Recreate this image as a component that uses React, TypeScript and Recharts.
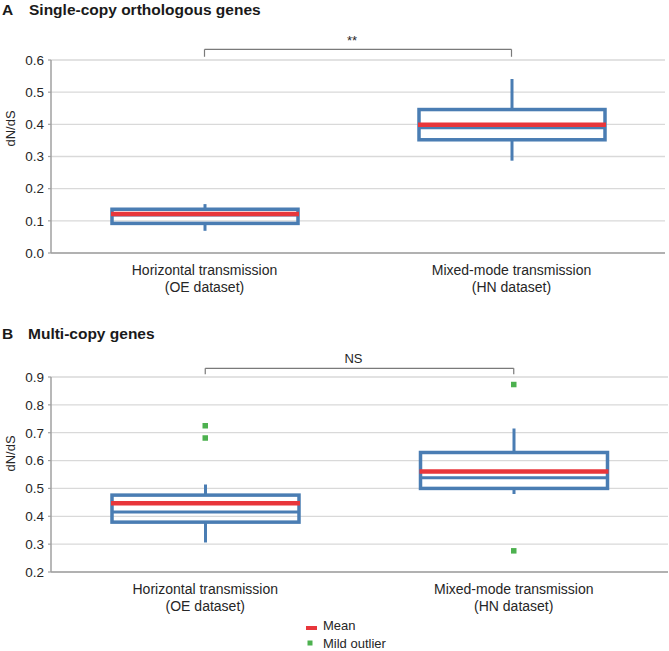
import React from 'react';
import {
  ComposedChart,
  Bar,
  Scatter,
  XAxis,
  YAxis,
  CartesianGrid,
  ReferenceLine,
} from 'recharts';

// ---------- data ----------
const categories = ['Horizontal transmission\n(OE dataset)', 'Mixed-mode transmission\n(HN dataset)'];

// Panel A: single-copy orthologous genes
const singleMin = [0.069, 0.287];
const singleQ1 = [0.092, 0.352];
const singleMedian = [0.118, 0.389];
const singleQ3 = [0.136, 0.446];
const singleMax = [0.152, 0.541];
const singleMean = [0.121, 0.399];
const singleTicks = [0, 0.1, 0.2, 0.3, 0.4, 0.5, 0.6];

// Panel B: multi-copy genes
const multiMin = [0.306, 0.48];
const multiQ1 = [0.379, 0.5];
const multiMedian = [0.415, 0.538];
const multiQ3 = [0.476, 0.629];
const multiMax = [0.514, 0.715];
const multiMean = [0.447, 0.561];
const multiOutlierHigh = [0.725, 0.873];
const multiOutlierLow = [0.681, 0.276];
const multiTicks = [0.2, 0.3, 0.4, 0.5, 0.6, 0.7, 0.8, 0.9];

const significance = ['**', 'NS'];
const panelTitles = ['Single-copy orthologous genes', 'Multi-copy genes'];
const legendLabels = ['Mean', 'Mild outlier'];

// ---------- styles ----------
const BLUE = '#4a7db3';
const RED = '#e8363b';
const GREEN = '#4db14f';
const AXIS = '#a0a0a0';
const GRID = '#d9d9d9';
const TEXT = '#262626';
const FONT = '"Liberation Sans", Arial, Helvetica, sans-serif';

const buildRows = (
  mins: number[], q1s: number[], meds: number[], q3s: number[], maxs: number[], means: number[],
  hi?: number[], lo?: number[]
) =>
  categories.map((name, i) => ({
    name,
    min: mins[i],
    q1: q1s[i],
    median: meds[i],
    q3: q3s[i],
    max: maxs[i],
    mean: means[i],
    range: [mins[i], maxs[i]],
    outHigh: hi ? hi[i] : null,
    outLow: lo ? lo[i] : null,
  }));

const singleRows = buildRows(singleMin, singleQ1, singleMedian, singleQ3, singleMax, singleMean);
const multiRows = buildRows(multiMin, multiQ1, multiMedian, multiQ3, multiMax, multiMean, multiOutlierHigh, multiOutlierLow);

function BoxShape(props: any) {
  const { x, y, width, height, payload } = props;
  if (!payload || height == null) return null;
  const { min, q1, median, q3, max, mean } = payload;
  const span = max - min;
  const py = (v: number) => y + ((max - v) / span) * height;
  const cx = x + width / 2;
  return (
    <g>
      <line x1={cx} x2={cx} y1={py(max)} y2={py(q3)} stroke={BLUE} strokeWidth={3} />
      <line x1={cx} x2={cx} y1={py(q1)} y2={py(min)} stroke={BLUE} strokeWidth={3} />
      <rect x={x} y={py(q3)} width={width} height={py(q1) - py(q3)} fill="none" stroke={BLUE} strokeWidth={3.5} />
      <line x1={x} x2={x + width} y1={py(median)} y2={py(median)} stroke={BLUE} strokeWidth={3} />
      <line x1={x - 1} x2={x + width + 1} y1={py(mean)} y2={py(mean)} stroke={RED} strokeWidth={4.5} />
    </g>
  );
}

function OutlierShape(props: any) {
  const { cx, cy } = props;
  if (cx == null || cy == null) return null;
  return <rect x={cx - 2.75} y={cy - 2.75} width={5.5} height={5.5} fill={GREEN} />;
}

function CategoryTick(props: any) {
  const { x, y, payload } = props;
  const lines = String(payload.value).split('\n');
  return (
    <text x={x} y={y} textAnchor="middle" fontFamily={FONT} fontSize={14} fill={TEXT}>
      {lines.map((l, i) => (
        <tspan key={i} x={x} y={y + 21.5 + i * 17}>
          {l}
        </tspan>
      ))}
    </text>
  );
}

const yLabel = (shift: number) => ({
  content: (p: any) => {
    const vb = p.viewBox || {};
    const cx = (vb.x || 0) + 10;
    const cy = (vb.y || 0) + (vb.height || 0) / 2 + shift;
    return (
      <text
        x={cx}
        y={cy}
        textAnchor="middle"
        dominantBaseline="central"
        transform={`rotate(-90, ${cx}, ${cy})`}
        fontFamily={FONT}
        fontSize={13}
        fill={TEXT}
      >
        dN/dS
      </text>
    );
  },
});

function Panel(props: {
  rows: any[];
  ticks: number[];
  top: number;
  height: number;
  marginTop: number;
  marginRight: number;
  barSize: number;
  bracketY: number;
  bracketTickY: number;
  sig: string;
  sigOffset: number;
  labelShift: number;
  outliers?: boolean;
}) {
  const { rows, ticks, top, height, marginTop, marginRight, barSize, bracketY, bracketTickY, sig, sigOffset, labelShift, outliers } = props;
  const lo = ticks[0];
  const hi = ticks[ticks.length - 1];
  return (
    <div style={{ position: 'absolute', left: 0, top }}>
      <ComposedChart
        width={669}
        height={height}
        data={rows}
        margin={{ top: marginTop, right: marginRight, bottom: 3, left: 0 }}
        barSize={barSize}
        style={{ fontFamily: FONT }}
      >
        <CartesianGrid vertical={false} stroke={GRID} strokeWidth={1.3} />
        <XAxis
          dataKey="name"
          type="category"
          interval={0}
          tickLine={false}
          tickSize={0}
          tickMargin={0}
          height={45}
          axisLine={{ stroke: AXIS, strokeWidth: 1.5 }}
          tick={<CategoryTick />}
        />
        <YAxis
          type="number"
          domain={[lo, hi]}
          ticks={ticks}
          interval={0}
          allowDataOverflow
          width={51}
          tickSize={3}
          tickMargin={4}
          axisLine={{ stroke: AXIS, strokeWidth: 1.5 }}
          tickLine={{ stroke: AXIS, strokeWidth: 1.2 }}
          tick={{ fontSize: 13.5, fill: TEXT, fontFamily: FONT }}
          tickFormatter={(v: number) => v.toFixed(1)}
          label={yLabel(labelShift)}
        />
        <Bar dataKey="range" shape={<BoxShape />} isAnimationActive={false} />
        {outliers && (
          <Scatter dataKey="outHigh" shape={<OutlierShape />} isAnimationActive={false} />
        )}
        {outliers && (
          <Scatter dataKey="outLow" shape={<OutlierShape />} isAnimationActive={false} />
        )}
        <ReferenceLine
          segment={[
            { x: categories[0], y: bracketY },
            { x: categories[1], y: bracketY },
          ]}
          stroke="#7a7a7a"
          strokeWidth={1.2}
          ifOverflow="visible"
          label={{ value: sig, position: 'top', offset: sigOffset, fontSize: 13, fill: TEXT, fontFamily: FONT, dx: -6 }}
        />
        <ReferenceLine
          segment={[
            { x: categories[0], y: bracketY },
            { x: categories[0], y: bracketTickY },
          ]}
          stroke="#7a7a7a"
          strokeWidth={1.2}
          ifOverflow="visible"
        />
        <ReferenceLine
          segment={[
            { x: categories[1], y: bracketY },
            { x: categories[1], y: bracketTickY },
          ]}
          stroke="#7a7a7a"
          strokeWidth={1.2}
          ifOverflow="visible"
        />
      </ComposedChart>
    </div>
  );
}

export default function App() {
  return (
    <div style={{ position: 'relative', width: 669, height: 651, background: '#fff', overflow: 'hidden' }}>
      <style>{'body{margin:0;background:#fff;}'}</style>
      <Panel
        rows={singleRows}
        ticks={singleTicks}
        top={0}
        height={301}
        marginTop={60}
        marginRight={4}
        barSize={186}
        bracketY={0.633}
        bracketTickY={0.61}
        sig={significance[0]}
        sigOffset={4}
        labelShift={-28}
      />
      <Panel
        rows={multiRows}
        ticks={multiTicks}
        top={300}
        height={320}
        marginTop={77}
        marginRight={1}
        barSize={187}
        bracketY={0.931}
        bracketTickY={0.91}
        sig={significance[1]}
        sigOffset={5}
        labelShift={-21}
        outliers
      />
      <svg
        width={669}
        height={651}
        style={{ position: 'absolute', left: 0, top: 0, pointerEvents: 'none' }}
        fontFamily={FONT}
      >
        <text x={2} y={14.5} fontSize={15.5} fontWeight="bold" fill="#1a1a1a">A</text>
        <text x={29} y={14.5} fontSize={15.5} fontWeight="bold" fill="#1a1a1a">{panelTitles[0]}</text>
        <text x={2} y={339} fontSize={15.5} fontWeight="bold" fill="#1a1a1a">B</text>
        <text x={28} y={339} fontSize={15.5} fontWeight="bold" fill="#1a1a1a">{panelTitles[1]}</text>
        <rect x={306} y={626} width={11} height={4} fill={RED} />
        <text x={323} y={629.5} fontSize={13} fill={TEXT}>{legendLabels[0]}</text>
        <rect x={307.5} y={640.5} width={5} height={5} fill={GREEN} />
        <text x={323} y={647.5} fontSize={13} fill={TEXT}>{legendLabels[1]}</text>
      </svg>
    </div>
  );
}
